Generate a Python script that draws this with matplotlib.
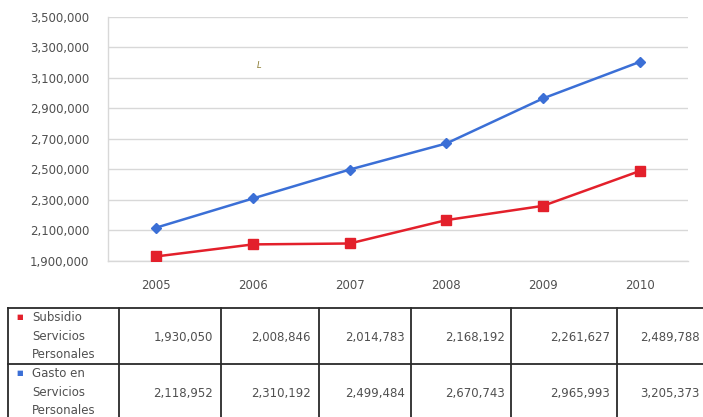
import matplotlib
matplotlib.use("Agg")
import matplotlib.pyplot as plt
from matplotlib.lines import Line2D
from matplotlib.ticker import FuncFormatter

years = ["2005", "2006", "2007", "2008", "2009", "2010"]
subsidio = [1930050, 2008846, 2014783, 2168192, 2261627, 2489788]
gasto = [2118952, 2310192, 2499484, 2670743, 2965993, 3205373]
series_labels = ["Subsidio\nServicios\nPersonales", "Gasto en\nServicios\nPersonales"]
y_ticks = [1900000, 2100000, 2300000, 2500000, 2700000, 2900000, 3100000, 3300000, 3500000]

RED = "#e3202b"
BLUE = "#3b6fd6"
TXT = "#505050"
W, H = 703, 417

plt.rcParams['font.family'] = ['DejaVu Sans']
fig = plt.figure(figsize=(W / 100, H / 100), dpi=100)
fig.patch.set_facecolor("white")

def fx(x):
    return x / W

def fy(y):
    return 1 - y / H

ax = fig.add_axes([fx(108), fy(261), fx(688) - fx(108), fy(17) - fy(261)])
xs = list(range(len(years)))
ax.plot(xs, gasto, color=BLUE, lw=1.8, marker="D", ms=5.5, zorder=3)
ax.plot(xs, subsidio, color=RED, lw=1.8, marker="s", ms=7, zorder=3)
ax.set_xlim(-0.5, 5.5)
ax.set_ylim(1900000, 3500000)
ax.set_yticks(y_ticks)
ax.yaxis.set_major_formatter(FuncFormatter(lambda v, p: f"{int(v):,}"))
ax.set_xticks(xs)
ax.set_xticklabels(years)
ax.tick_params(axis="both", length=0, labelsize=8.5, labelcolor=TXT)
ax.tick_params(axis="y", pad=13.5)
ax.tick_params(axis="x", pad=13)
ax.grid(axis="y", color="#d8d8d8", lw=1)
ax.set_axisbelow(True)
for s in ["top", "right"]:
    ax.spines[s].set_visible(False)
for s in ["left", "bottom"]:
    ax.spines[s].set_color("#d8d8d8")
    ax.spines[s].set_linewidth(1)

# stray mark in the scanned chart
fig.text(fx(259), fy(66), "L", fontsize=6, style="italic", color="#8a7a30",
         ha="center", va="center")

# data table below the chart
col_edges = [8, 119, 221, 319, 411, 511, 617, 725]
num_right = [213, 311, 405, 505, 610, 700]
row_edges = [308, 364, 425]
num_y = [338, 393]
LC = "#2a2a2a"
for y in row_edges:
    fig.add_artist(Line2D([fx(col_edges[0]), fx(col_edges[-1])], [fy(y), fy(y)],
                          color=LC, lw=1.3))
for x in col_edges:
    fig.add_artist(Line2D([fx(x), fx(x)], [fy(row_edges[0]), fy(row_edges[-1])],
                          color=LC, lw=1.3))

rows = [subsidio, gasto]
colors = [RED, BLUE]
for r, (vals, lab, c) in enumerate(zip(rows, series_labels, colors)):
    top = row_edges[r]
    fig.text(fx(32), fy(top + 3), lab, fontsize=8.5, color=TXT, ha="left", va="top",
             linespacing=1.55)
    fig.text(fx(20), fy(top + 9), "\u25a0", fontsize=5, color=c, ha="center", va="center")
    for i, v in enumerate(vals):
        fig.text(fx(num_right[i]), fy(num_y[r]), f"{v:,}", fontsize=8.5, color=TXT,
                 ha="right", va="center")

fig.savefig("out.png", dpi=100, facecolor="white")
